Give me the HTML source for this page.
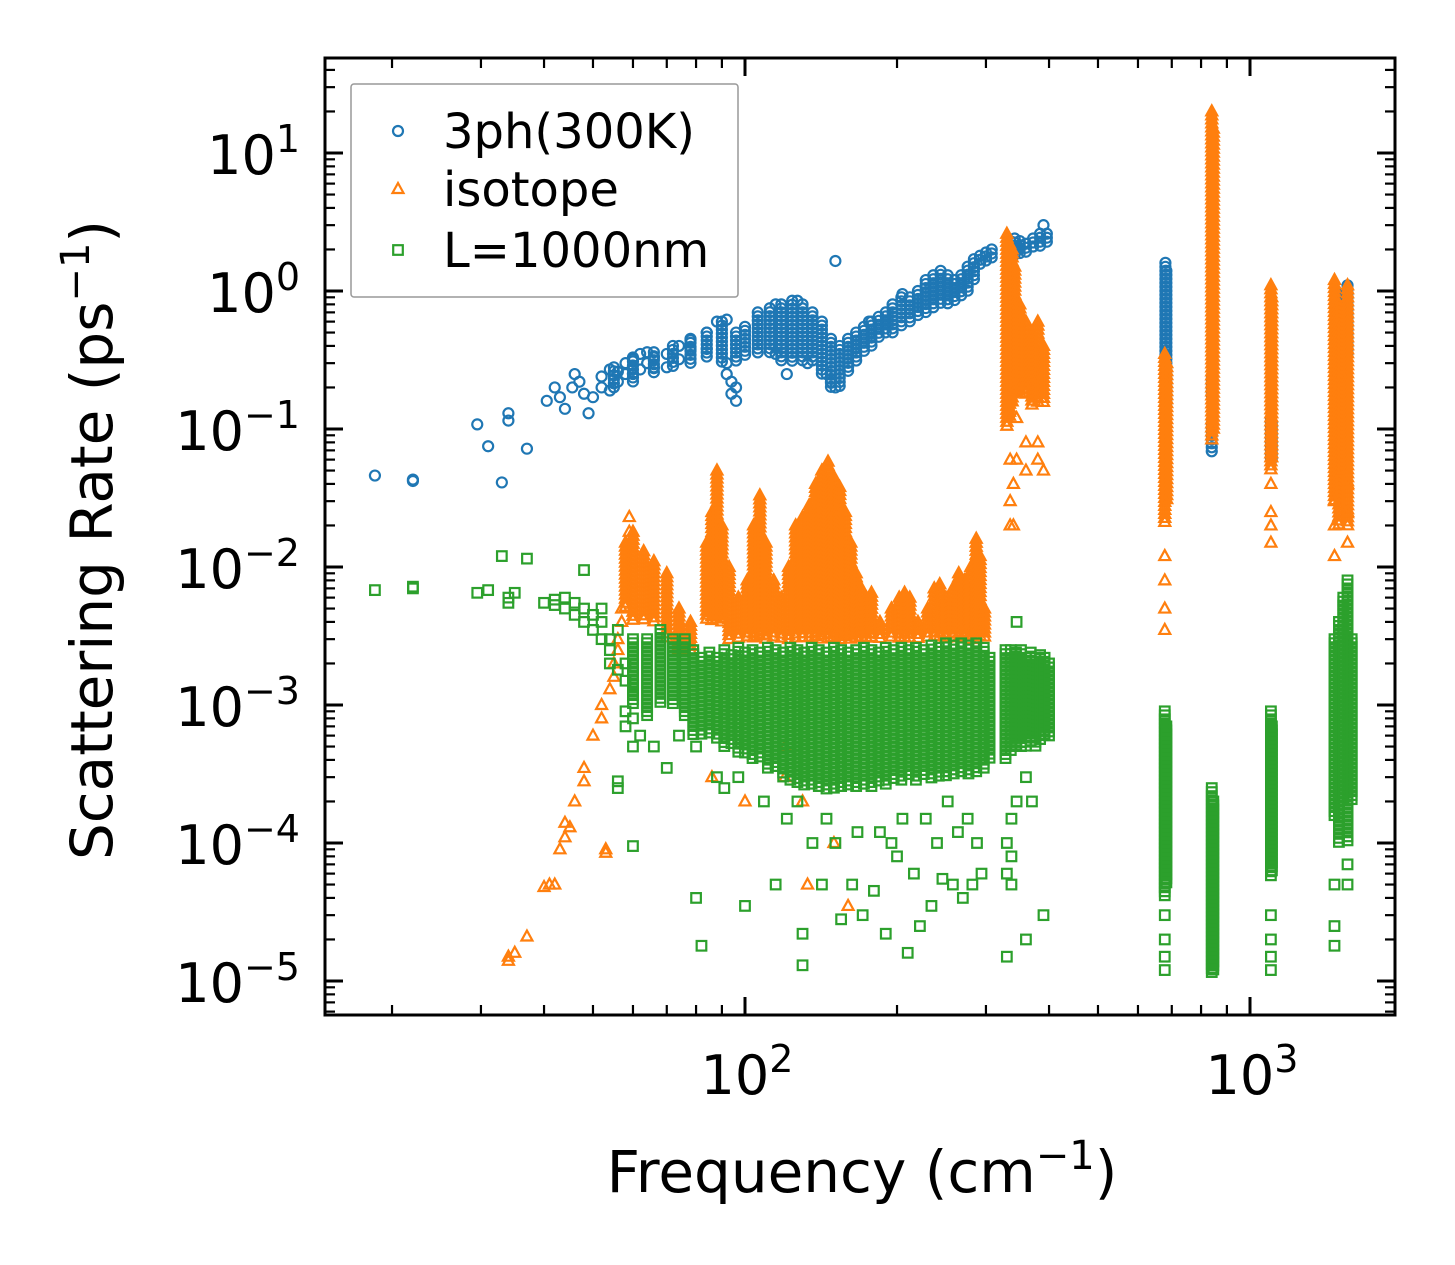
<!DOCTYPE html>
<html><head><meta charset="utf-8">
<style>
html,body{margin:0;padding:0;background:#fff;}
svg{display:block;font-family:"DejaVu Sans","Liberation Sans",sans-serif;}
</style></head>
<body>
<svg id="chart" width="1455" height="1265" viewBox="0 0 1455 1265">
<rect x="0" y="0" width="1455" height="1265" fill="#fff"/>
<g id="marks"></g>
<g id="axes"></g>
</svg>
<script>
// axis tick data
const xMajorTicks = [100, 1000];
const xMajorLabels = ["2", "3"];
const yMajorTicks = [10, 1, 0.1, 0.01, 0.001, 0.0001, 0.00001];
const yMajorLabels = ["1", "0", "\u22121", "\u22122", "\u22123", "\u22124", "\u22125"];
const seriesNames = ["3ph(300K)", "isotope", "L=1000nm"];
const seriesColors = ["#1f77b4", "#ff7f0e", "#2ca02c"];

// scattered points: [frequency, rate, rate, ...]
const blueCols = [
[18.5,.046],[22,.043,.042],[29.5,.108],[31,.075],[33,.041],[34,.13,.115],[37,.072],[40.5,.16],[42,.2],[43,.17],[44,.14],[45.5,.2],[46,.25],[47,.22],[48,.18],[49,.13],[50,.17],
[52,.24,.2],[54,.27,.19],[56,.22,.26],[58,.3,.25],[60,.25,.32],[62,.27,.35],[64,.3,.36],[66,.33,.28],[70,.28,.35],[74,.4,.32],[78,.38,.44],[84,.5,.38],[88,.6],[92,.62,.3,.25],[94,.22,.18],[96,.16,.2],
[115,.8,.35],[121,.25],[127,.85],[133,.3],[145,.25],[148,.22],[151,1.65,.2],[176,.6],[205,.95],
[390,3.0]
];
const blueBands = [
[55,.2,.28],[60,.22,.33],[66,.25,.36],[72,.27,.4],[78,.3,.45],[84,.32,.5],[90,.3,.6],[96,.3,.5],[100,.33,.55],[106,.35,.7],[112,.35,.75],[118,.3,.8],[124,.3,.85],[130,.3,.8],[136,.3,.7],[142,.25,.6],[148,.2,.45],[154,.2,.4],[160,.25,.45],[166,.3,.5],[172,.35,.55],[178,.4,.6],[184,.45,.65],[190,.5,.7],[196,.5,.8],[204,.55,.9],[212,.6,.9],[220,.65,1.0],[228,.7,1.2],[236,.75,1.3],[244,.8,1.4],[252,.8,1.3],[260,.85,1.2],[268,.9,1.3],[276,1.0,1.5],[284,1.2,1.7],[292,1.5,1.8],[300,1.6,1.9],[308,1.7,2.0],
[335,1.7,2.3],[342,1.8,2.4],[350,1.8,2.3],[360,1.9,2.2],[372,2.0,2.4],[384,2.1,2.6],[396,2.2,2.6],
[680,.13,1.6],[683,.15,1.4],[840,.17,.23],[840,.065,.11],[1100,.06,.12],[1104,.06,.11],[1480,.4,1.0],[1560,.35,1.1]
];
const orangeCols = [
[34,1.4e-5,1.5e-5],[35,1.6e-5],[37,2.1e-5],[40,4.8e-5],[41,5e-5],[42,5e-5],[43,9e-5],[44,1.1e-4,1.4e-4],[45,1.3e-4],[46,2e-4],[48,3.5e-4,2.8e-4],[50,6e-4],[52,1e-3,8e-4],[53,8.5e-5,9e-5],[54,1.3e-3],[55,2e-3,1.6e-3],[56,3e-3,2.5e-3],[57,5e-3,4e-3],[59,1.8e-2,2.3e-2],
[86,3e-4],[100,2e-4],[120,5e-4,3e-4],[130,2e-4],[133,5e-5],[150,1e-4],[160,3.5e-5],
[335,6e-2,3e-2,2e-2],[340,.04,.02],[345,.12,.06],[360,.08,.05],[380,.08,.06],[390,.05],
[678,.012,.008,.005,.0035],[1100,.04,.025,.02,.015],[1470,.03,.02,.012],[1560,.04,.025,.015]
];
const orangeBands = [
[58,5e-3,1.5e-2],[60,4e-3,1.8e-2],[63,4e-3,1.3e-2],[66,4e-3,1.1e-2],[70,3e-3,9e-3],[74,2.5e-3,5e-3],[78,2.5e-3,4e-3],
[84,4e-3,1.5e-2],[86,4e-3,2.5e-2],[88,4e-3,5e-2],[90,4e-3,2e-2],[93,3e-3,1e-2],[97,3e-3,6e-3],[101,3e-3,8e-3],
[104,3e-3,2e-2],[107,3e-3,3.3e-2],[110,3e-3,1.5e-2],[114,3e-3,8e-3],[118,3e-3,6e-3],[122,3e-3,1e-2],[126,3e-3,2e-2],[130,3e-3,2.3e-2],[134,3e-3,2.8e-2],[138,3e-3,4e-2],[142,3e-3,5e-2],[146,3e-3,5.8e-2],[150,3e-3,4.5e-2],[154,3e-3,3.8e-2],[158,3e-3,2.5e-2],[162,3e-3,1.5e-2],[166,3e-3,9e-3],[170,3e-3,7e-3],[174,3e-3,6e-3],[178,3e-3,6.5e-3],[185,3e-3,4e-3],[195,3e-3,5e-3],[202,3e-3,6e-3],[207,3e-3,6.5e-3],[212,3e-3,6e-3],[220,3e-3,4e-3],[230,3e-3,5e-3],[237,3e-3,7e-3],[243,3e-3,7.5e-3],[250,3e-3,6e-3],[258,3e-3,7e-3],[265,3e-3,9e-3],[272,3e-3,8e-3],[280,3e-3,1e-2],[287,3e-3,1.6e-2],[292,3e-3,1.2e-2],[298,3e-3,5e-3],
[330,.1,2.6],[334,.12,2.2],[338,.15,2.0],[342,.18,1.5],[350,.18,.8],[360,.18,.6],[370,.15,.5],[380,.15,.6],[390,.15,.4],
[678,.02,.35],[684,.03,.3],[840,.08,20],[846,.1,15],[1100,.05,1.1],[1104,.06,.9],[1470,.03,1.2],[1500,.02,.8],[1530,.05,.6],[1560,.02,1.1]
];
const greenCols = [
[18.5,6.8e-3],[22,7e-3,7.2e-3],[29.5,6.5e-3],[31,6.8e-3],[33,1.2e-2],[34,6e-3,5.5e-3],[35,6.5e-3],[37,1.15e-2],[40,5.5e-3],[42,5.8e-3,5.3e-3],[44,6e-3,5e-3],[46,5.5e-3,4.5e-3],[48,9.5e-3,5e-3,4e-3],[50,4.5e-3,3.5e-3],[52,4e-3,3e-3,5e-3],[54,3e-3,2.5e-3,2e-3],[56,3.5e-3,1.8e-3,2.5e-4,2.8e-4],[58,2e-3,1.5e-3,9e-4,7e-4],[60,1.2e-3,8e-4,5e-4,9.5e-5],[62,6e-4],[66,5e-4],[70,3.5e-4],[74,6e-4],[80,5e-4,4e-5],[82,1.8e-5],
[88,3e-4],[91,2.5e-4],[97,3e-4],[100,3.5e-5],[109,2e-4],[115,5e-5],[121,1.5e-4],[127,2e-4],[130,2.2e-5,1.3e-5],[136,1e-4],[142,5e-5],[145,1.5e-4],[151,1e-4],[155,2.8e-5],[163,5e-5],[167,1.2e-4],[171,3e-5],[180,4.5e-5],[185,1.2e-4],[190,2.2e-5],[195,1e-4],[200,8e-5],[205,1.5e-4],[210,1.6e-5],[216,6e-5],[222,2.5e-5],[228,1.5e-4],[234,3.5e-5],[240,1e-4],[246,5.5e-5],[252,2e-4],[258,5e-5],[264,1.2e-4],[270,4e-5],[276,1.5e-4],[282,5e-5],[288,1e-4],[294,6e-5],
[330,1e-4,6e-5,1.5e-5],[337,1.5e-4,8e-5,5e-5],[345,4e-3,2e-4],[360,3e-4,2e-5],[370,2e-4],[390,3e-5],
[678,3e-5,2e-5,1.5e-5,1.2e-5],[1100,3e-5,2e-5,1.5e-5,1.2e-5],[1470,5e-5,2.5e-5,1.8e-5],[1560,7e-5,5e-5]
];
const greenBands = [
[60,1e-3,3e-3],[64,8e-4,3e-3],[68,1e-3,3.5e-3],[72,1e-3,3e-3],[76,8e-4,3e-3],[79,6e-4,2.5e-3],
[82,6e-4,2.2e-3],[85,6e-4,2.4e-3],[88,5.5e-4,2.2e-3],[91,5e-4,2.5e-3],[94,5e-4,2.3e-3],[97,4.5e-4,2.6e-3],[100,4.5e-4,2.4e-3],[103.5,4e-4,2.5e-3],[107,4e-4,2.4e-3],[111,3.5e-4,2.6e-3],[115,3.5e-4,2.5e-3],[119,3e-4,2.4e-3],[123,2.8e-4,2.6e-3],[127,2.6e-4,2.5e-3],[131,2.5e-4,2.4e-3],[135.5,2.6e-4,2.6e-3],[140,2.5e-4,2.5e-3],[145,2.4e-4,2.4e-3],[150,2.5e-4,2.6e-3],[155,2.5e-4,2.5e-3],[160,2.6e-4,2.4e-3],[166,2.5e-4,2.5e-3],[172,2.6e-4,2.6e-3],[178,2.5e-4,2.5e-3],[184,2.7e-4,2.4e-3],[190,2.6e-4,2.6e-3],[197,2.8e-4,2.5e-3],[204,2.7e-4,2.6e-3],[211,3e-4,2.5e-3],[218,2.8e-4,2.6e-3],[226,3e-4,2.5e-3],[234,2.8e-4,2.7e-3],[242,3e-4,2.6e-3],[250,3e-4,2.8e-3],[259,3e-4,2.7e-3],[268,3.2e-4,2.8e-3],[277,3e-4,2.7e-3],[287,3.2e-4,2.8e-3],[297,3.5e-4,2.6e-3],[305,4e-4,2.2e-3],
[328,4e-4,2.5e-3],[336,4.5e-4,2.5e-3],[344,5e-4,2.4e-3],[352,5e-4,2.5e-3],[360,5e-4,2.2e-3],[368,5.5e-4,2.4e-3],[376,5e-4,2.2e-3],[384,5.5e-4,2.3e-3],[392,6e-4,2.2e-3],[400,6e-4,2e-3],
[678,4e-5,9e-4],[683,5e-5,7e-4],[840,1.1e-5,2.5e-4],[846,1.2e-5,2e-4],[1100,5.5e-5,9e-4],[1105,6e-5,7e-4],[1470,1.5e-4,3e-3],[1500,1e-4,4e-3],[1530,2e-4,6e-3],[1560,1e-4,8e-3],[1590,2e-4,3e-3]
];

const NS = "http://www.w3.org/2000/svg";
const L = 325, R = 1395, T = 58, B = 1015;
function xs(f){ return 745 + 505*(Math.log10(f)-2); }
function ys(r){ return 291 - 138*Math.log10(r); }
function mk(tag, attrs, parent){
  const e = document.createElementNS(NS, tag);
  for (const k in attrs) e.setAttribute(k, attrs[k]);
  parent.appendChild(e); return e;
}
const marks = document.getElementById('marks');
const axes = document.getElementById('axes');

function marker(type, cx, cy, color, parent){
  let el;
  if (type === 0) el = mk('circle', {cx:cx, cy:cy, r:5, fill:'none', stroke:color, 'stroke-width':2.2}, parent);
  else if (type === 1) el = mk('polygon', {points:`${cx},${cy-6} ${cx+5.5},${cy+4} ${cx-5.5},${cy+4}`, fill:'none', stroke:color, 'stroke-width':2.2, 'stroke-linejoin':'miter'}, parent);
  else el = mk('rect', {x:cx-4.8, y:cy-4.8, width:9.6, height:9.6, fill:'none', stroke:color, 'stroke-width':2.2}, parent);
  return el;
}
const allCols = [blueCols, orangeCols, greenCols];
const allBands = [blueBands, orangeBands, greenBands];
[0,1,2].forEach(si => {
  const g = mk('g', {}, marks);
  
  
  allBands[si].forEach(b => {
    const x = xs(b[0]);
    const y1 = ys(b[2]), y2 = ys(b[1]);
    for (let y = y1; y <= y2 + 0.1; y += 4) {
      const el = marker(si, x, y, seriesColors[si], g);
      
      
    }
  });
  allCols[si].forEach(col => {
    for (let i = 1; i < col.length; i++) {
      const el = marker(si, xs(col[0]), ys(col[i]), seriesColors[si], g);
      
      
    }
  });
});

const frame = mk('rect', {x:L, y:T, width:R-L, height:B-T, fill:'none', stroke:'#000', 'stroke-width':3}, axes);



for (let d = 1; d <= 3; d++) {
  for (let m = 1; m <= 9; m++) {
    const x = xs(m*Math.pow(10, d));
    if (x < L || x > R) continue;
    const len = m === 1 ? 18 : 10;
    const w = m === 1 ? 3 : 2.2;
    const t1 = mk('line', {x1:x, x2:x, y1:B, y2:B-len, stroke:'#000', 'stroke-width':w}, axes);
    
    
    const t2 = mk('line', {x1:x, x2:x, y1:T, y2:T+len, stroke:'#000', 'stroke-width':w}, axes);
    
    
  }
}
xMajorTicks.forEach((f, i) => {
  const t = mk('text', {x:xs(f)+2, y:1094, 'font-size':54, 'text-anchor':'middle', fill:'#000'}, axes);
  
  
  t.innerHTML = `10<tspan dy="-22" font-size="38">${xMajorLabels[i]}</tspan>`;
});
for (let d = -6; d <= 1; d++) {
  for (let m = 1; m <= 9; m++) {
    const y = ys(m*Math.pow(10, d));
    if (y < T || y > B) continue;
    const len = m === 1 ? 18 : 10;
    const w = m === 1 ? 3 : 2.2;
    const t1 = mk('line', {x1:L, x2:L+len, y1:y, y2:y, stroke:'#000', 'stroke-width':w}, axes);
    
    
    const t2 = mk('line', {x1:R, x2:R-len, y1:y, y2:y, stroke:'#000', 'stroke-width':w}, axes);
    
    
  }
}
yMajorTicks.forEach((r, i) => {
  const t = mk('text', {x:300, y:ys(r)+21, 'font-size':54, 'text-anchor':'end', fill:'#000'}, axes);
  
  
  t.innerHTML = `10<tspan dy="-22" font-size="38">${yMajorLabels[i]}</tspan>`;
});

const xt = mk('text', {x:862, y:1192, 'font-size':58, 'text-anchor':'middle', fill:'#000'}, axes);


xt.innerHTML = 'Frequency (cm<tspan dy="-23" font-size="40">\u22121</tspan><tspan dy="23">)</tspan>';
const yt = mk('text', {x:0, y:0, 'font-size':58, 'text-anchor':'middle', fill:'#000', transform:'translate(112,540) rotate(-90)'}, axes);


yt.innerHTML = 'Scattering Rate (ps<tspan dy="-23" font-size="40">\u22121</tspan><tspan dy="23">)</tspan>';

const lg = mk('g', {}, axes);


const lbox = mk('rect', {x:351, y:84, width:387, height:213, fill:'#fff', 'fill-opacity':0.8, stroke:'#999', 'stroke-width':1.5, rx:3}, lg);


const rowsY = [131, 189, 250];
seriesNames.forEach((n, i) => {
  const m = marker(i, 398, rowsY[i], seriesColors[i], lg);
  
  
  const t = mk('text', {x:443, y:rowsY[i]+17, 'font-size':48, fill:'#000'}, lg);
  
  
  t.textContent = n;
});
</script>
</body></html>
